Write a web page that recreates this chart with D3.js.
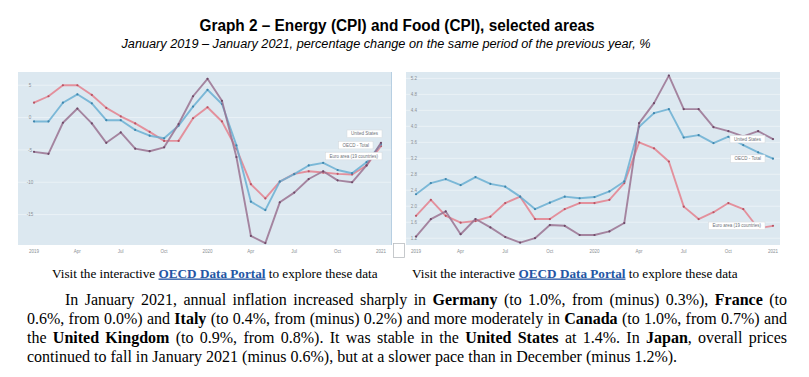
<!DOCTYPE html>
<html>
<head>
<meta charset="utf-8">
<script src="https://cdn.jsdelivr.net/npm/d3@7"></script>
<style>
  body { margin: 0; background: #fff; }
  #wrap { position: relative; width: 809px; height: 377px; overflow: hidden; }
  svg { position: absolute; left: 0; top: 0; }
  #para { position: absolute; left: 27px; top: 290px; width: 760px;
          font-family: "Liberation Serif", "Times New Roman", serif; font-size: 16px;
          line-height: 19px; color: #000; }
  #para div { white-space: nowrap; }
  #para .j { text-align: justify; text-align-last: justify; white-space: normal; }
</style>
</head>
<body>
<div id="wrap">
  <div id="para">
    <div class="j" style="padding-left:38px">In January 2021, annual inflation increased sharply in <b>Germany</b> (to 1.0%, from (minus) 0.3%), <b>France</b> (to</div>
    <div class="j">0.6%, from 0.0%) and <b>Italy</b> (to 0.4%, from (minus) 0.2%) and more moderately in <b>Canada</b> (to 1.0%, from 0.7%) and</div>
    <div class="j">the <b>United Kingdom</b> (to 0.9%, from 0.8%). It was stable in the <b>United States</b> at 1.4%. In <b>Japan</b>, overall prices</div>
    <div>continued to fall in January 2021 (minus 0.6%), but at a slower pace than in December (minus 1.2%).</div>
  </div>
</div>
<script>
// DATA (Jan 2019 ... Jan 2021, monthly)

let monthTicks = ["2019", "Apr", "Jul", "Oct", "2020", "Apr", "Jul", "Oct", "2021"]
let seriesNames = ["United States", "OECD - Total", "Euro area (19 countries)"]

// Energy (CPI), % change y/y
let energyUS   = [-5.3, -5.6, -0.8, 1.4, -0.9, -3.9, -2.3, -4.8, -5.2, -4.6, -1.0, 3.3, 6.0, 2.6, -6.1, -18.3, -19.4, -13.1, -11.6, -9.5, -8.3, -9.7, -10.0, -7.4, -3.9]
let energyOECD = [-0.6, -0.6, 2.3, 3.6, 2.2, -0.4, -0.4, -1.9, -2.8, -3.2, -1.25, 1.7, 4.3, 2.1, -4.3, -13.0, -14.3, -9.9, -8.75, -7.4, -7.0, -8.1, -8.6, -6.9, -4.1]
let energyEuro = [2.3, 3.3, 5.0, 5.0, 3.5, 1.5, 0.2, -0.9, -2.2, -3.6, -3.6, -0.1, 1.6, -0.6, -4.8, -10.3, -12.5, -9.9, -8.7, -8.3, -8.5, -8.7, -8.8, -7.4, -4.4]
let energyTicks = [5, 0, -5, -10, -15]

// Food (CPI), % change y/y
let foodUS   = [1.24, 1.68, 1.87, 1.3, 1.68, 1.47, 1.23, 1.09, 1.2, 1.53, 1.51, 1.28, 1.28, 1.37, 1.58, 4.08, 4.58, 5.27, 4.43, 4.43, 3.98, 3.88, 3.75, 3.88, 3.68]
let foodOECD = [2.3, 2.58, 2.68, 2.53, 2.73, 2.56, 2.49, 2.24, 1.93, 2.09, 2.24, 2.2, 2.23, 2.37, 2.62, 3.99, 4.33, 4.43, 3.72, 3.78, 3.58, 3.74, 3.53, 3.35, 3.19]
let foodEuro = [1.76, 2.16, 1.76, 1.59, 1.63, 1.74, 2.08, 2.24, 1.68, 1.68, 1.93, 2.08, 2.08, 2.16, 2.58, 3.6, 3.45, 3.12, 1.99, 1.68, 1.85, 2.08, 1.93, 1.45, 1.51]
let foodTicks = [1.2, 1.6, 2.0, 2.4, 2.8, 3.2, 3.6, 4.0, 4.4, 4.8, 5.2]

let lineColors = ["#9a7291", "#6aafd2", "#e4808d"]
let dotColors = ["#6e4a68", "#3f86ad", "#b85464"]

// SVG
let svg = d3.select("#wrap").insert("svg", ":first-child")
    .attr("width", 809)
    .attr("height", 377)

// titles
svg.append("text")
    .attr("x", 397).attr("y", 31)
    .attr("text-anchor", "middle")
    .attr("font-family", "'Liberation Sans Narrow', 'Arial Narrow', 'Liberation Sans', Arial, sans-serif")
    .attr("font-weight", "bold")
    .attr("font-size", 16)
    .attr("textLength", 395).attr("lengthAdjust", "spacingAndGlyphs")
    .text("Graph 2 – Energy (CPI) and Food (CPI), selected areas")

svg.append("text")
    .attr("x", 386).attr("y", 47.5)
    .attr("text-anchor", "middle")
    .attr("font-family", "'Liberation Sans Narrow', 'Arial Narrow', 'Liberation Sans', Arial, sans-serif")
    .attr("font-style", "italic")
    .attr("font-size", 12.5)
    .attr("textLength", 529).attr("lengthAdjust", "spacingAndGlyphs")
    .text("January 2019 – January 2021, percentage change on the same period of the previous year, %")

// CHART FUNCTION
function drawChart(cfg) {
    let g = svg.append("g")

    let x = d3.scaleLinear().domain([0, 24]).range(cfg.xRange)
    let y = d3.scaleLinear().domain(cfg.yDomain).range([245, 72])

    g.append("rect")
        .attr("x", cfg.panel[0]).attr("y", 72)
        .attr("width", cfg.panel[1] - cfg.panel[0]).attr("height", 173)
        .attr("fill", "#dce8f0")

    // gridlines
    g.selectAll(".grid")
        .data(cfg.ticks)
        .enter().append("line")
        .attr("x1", cfg.panel[0]).attr("x2", cfg.panel[1])
        .attr("y1", d => y(d)).attr("y2", d => y(d))
        .attr("stroke", "#eef4f8").attr("stroke-width", 0.8)

    // y labels
    g.selectAll(".ylab")
        .data(cfg.ticks)
        .enter().append("text")
        .attr("x", cfg.yLabelX).attr("y", d => y(d) + 1.6)
        .attr("text-anchor", "middle")
        .attr("font-family", "Arial, 'Liberation Sans', sans-serif")
        .attr("font-size", 4.5)
        .attr("fill", "#8a8f94")
        .text(cfg.fmt)

    // x labels
    g.selectAll(".xlab")
        .data(monthTicks)
        .enter().append("text")
        .attr("x", (d, i) => x(i * 3))
        .attr("y", 252.5)
        .attr("text-anchor", "middle")
        .attr("font-family", "Arial, 'Liberation Sans', sans-serif")
        .attr("font-size", 4.5)
        .attr("fill", "#8a8f94")
        .text(d => d)

    let line = d3.line()
        .x((d, i) => x(i))
        .y(d => y(d))

    // lines drawn back to front: Euro, OECD, US
    let order = [2, 1, 0]
    order.forEach(k => {
        g.append("path")
            .datum(cfg.series[k])
            .attr("d", line)
            .attr("fill", "none")
            .attr("stroke", lineColors[k])
            .attr("stroke-width", 1.9)
            .attr("stroke-opacity", 0.85)
            .attr("stroke-linejoin", "round")

        g.selectAll(".dot" + k)
            .data(cfg.series[k])
            .enter().append("circle")
            .attr("cx", (d, i) => x(i))
            .attr("cy", d => y(d))
            .attr("r", 1.1)
            .attr("fill", dotColors[k])
    })

    // end labels
    order.forEach(k => {
        let last = cfg.series[k][24]
        let px = x(24) + cfg.labelOffsets[k][0]
        let py = y(last) + cfg.labelOffsets[k][1]
        let lab = g.append("g")
        let t = lab.append("text")
            .attr("y", py + 1.6)
            .attr("text-anchor", "end")
            .attr("font-family", "Arial, 'Liberation Sans', sans-serif")
            .attr("font-size", 4.5)
            .attr("fill", "#6d7278")
            .text(seriesNames[k])
        let w = t.node().getComputedTextLength()
        t.attr("x", px - 4)
        lab.insert("rect", "text")
            .attr("x", px - w - 8).attr("y", py - 3.8)
            .attr("width", w + 8).attr("height", 7.6)
            .attr("fill", "#fff")
            .attr("stroke", "#d3d8dc").attr("stroke-width", 0.5)
    })
}

drawChart({
    panel: [18, 392],
    xRange: [34, 381],
    yDomain: [-19.7, 7.05],
    ticks: energyTicks,
    yLabelX: 30,
    fmt: d => d,
    series: [energyUS, energyOECD, energyEuro],
    labelOffsets: [[1, -9], [-8, 1], [1, 10]]
})

drawChart({
    panel: [406, 780],
    xRange: [416, 773],
    yDomain: [1.03, 5.36],
    ticks: foodTicks,
    yLabelX: 414,
    fmt: d => d.toFixed(1),
    series: [foodUS, foodOECD, foodEuro],
    labelOffsets: [[-8, 0], [-8, 0], [-8, 0]]
})

// left panel right border and small box between the charts
svg.append("line")
    .attr("x1", 391.5).attr("x2", 391.5).attr("y1", 72).attr("y2", 245)
    .attr("stroke", "#b7cfe2").attr("stroke-width", 1)

svg.append("rect")
    .attr("x", 393.5).attr("y", 243.5).attr("width", 11).attr("height", 14)
    .attr("fill", "#fff").attr("stroke", "#b9bcc0").attr("stroke-width", 0.8)

// "Visit" captions
let captionX = [52, 412]
captionX.forEach(cx => {
    let t = svg.append("text")
        .attr("x", cx).attr("y", 277.5)
        .attr("font-family", "'Liberation Serif', 'Times New Roman', serif")
        .attr("font-size", 13.2)
        .attr("fill", "#000")
    t.append("tspan").text("Visit the interactive ")
    t.append("tspan")
        .attr("font-weight", "bold").attr("fill", "#2456a4")
        .attr("text-decoration", "underline")
        .text("OECD Data Portal")
    t.append("tspan").text(" to explore these data")
})
</script>
</body>
</html>
